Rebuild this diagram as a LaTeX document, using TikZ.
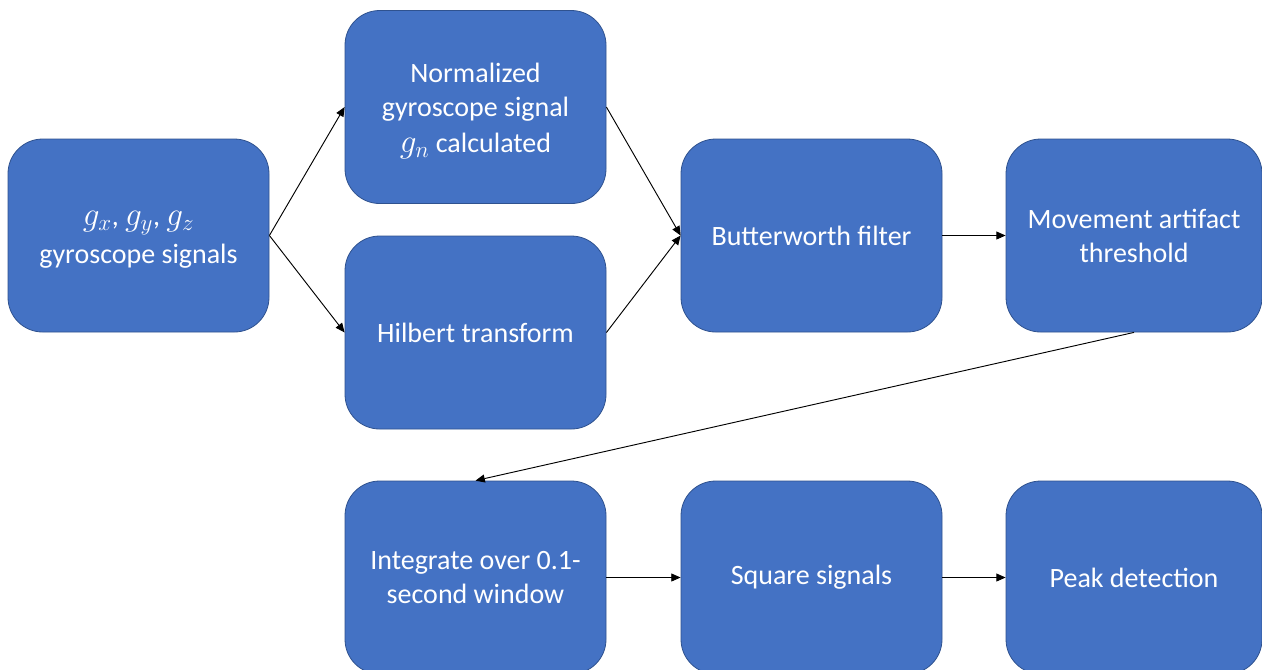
\documentclass[tikz,border=0pt]{standalone}
\usepackage{fontspec}
\setmainfont{Carlito}
\usetikzlibrary{arrows.meta}
\definecolor{boxfill}{HTML}{4472C4}
\definecolor{boxline}{HTML}{2F528F}
\tikzset{
  blk/.style={draw=boxline, line width=0.6pt, fill=boxfill, rounded corners=26pt,
    minimum width=195.75pt, minimum height=144.75pt, text=white, align=center,
    inner sep=2pt, font=\fontsize{21pt}{25.5pt}\selectfont},
  blktext/.style={text=white, align=center, inner sep=0pt, font=\fontsize{21pt}{25.5pt}\selectfont},
  conn/.style={draw=black, line width=0.7pt, -{Triangle[length=7pt,width=6pt]}}
}
\newcommand{\largemath}[1]{{\fontsize{24pt}{28pt}\selectfont$#1$}}
\begin{document}
\begin{tikzpicture}[x=0.75pt,y=-0.75pt]
\useasboundingbox (0,0) rectangle (1262,669);
\clip (0,0) rectangle (1262,669);
\fill[white] (0,0) rectangle (1262,669);
\node[blk] (a) at (138.5,235.5) {};
\node[blktext] (at) at (138.5,240) {\largemath{g_x}, \largemath{g_y}, \largemath{g_z}\\[3pt]gyroscope signals};
\node[blk] (b) at (475.5,107) {};
\node[blktext] (bt) at (475.5,111) {Normalized\\gyroscope signal\\[2pt]\largemath{g_n} calculated};
\node[blk] (c) at (475.5,332.5) {Hilbert transform};
\node[blk] (d) at (811.5,235.5) {Butterworth filter};
\node[blk, minimum width=192pt] (e) at (1134,235.5) {Movement artifact\\threshold};
\node[blk] (f) at (475.5,577.5) {Integrate over 0.1-\\second window};
\node[blk] (g) at (811.5,577.5) {Square signals};
\node[blk, minimum width=192pt] (h) at (1134,577.5) {Peak detection};
\draw[conn] (a.east) -- (b.west);
\draw[conn] (a.east) -- (c.west);
\draw[conn] (b.east) -- (d.west);
\draw[conn] (c.east) -- (d.west);
\draw[conn] (d.east) -- (e.west);
\draw[conn] (e.south) -- (f.north);
\draw[conn] (f.east) -- (g.west);
\draw[conn] (g.east) -- (h.west);
\end{tikzpicture}
\end{document}
